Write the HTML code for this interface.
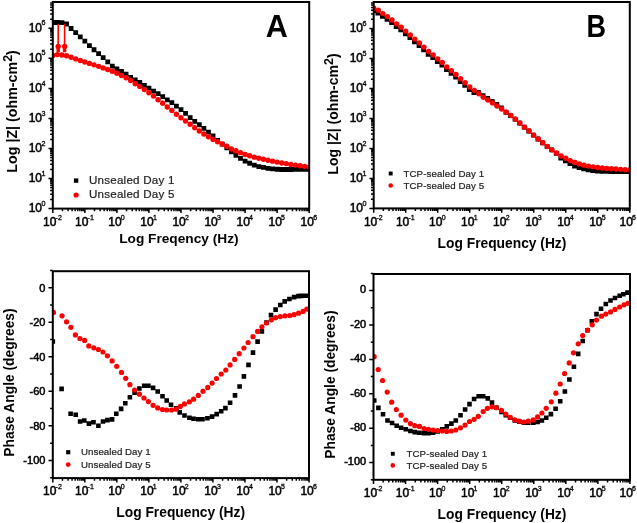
<!DOCTYPE html><html><head><meta charset="utf-8"><style>html,body{margin:0;padding:0;background:#fff;overflow:hidden}svg{display:block} text{font-family:"Liberation Sans", sans-serif;fill:#000} .tl{stroke:#000;stroke-width:0.5px} .ts{stroke:#000;stroke-width:0.3px}</style></head><body>
<svg width="637" height="523" viewBox="0 0 637 523" style="will-change:transform">
<rect width="637" height="523" fill="#fff"/>
<clipPath id="cA"><rect x="52.8" y="2" width="256.4" height="206.6"/></clipPath>
<clipPath id="cB"><rect x="373.7" y="2" width="256.1" height="206.4"/></clipPath>
<clipPath id="cC"><rect x="52.8" y="271.2" width="256.2" height="206.9"/></clipPath>
<clipPath id="cD"><rect x="373.5" y="274" width="256.5" height="205.8"/></clipPath>
<g clip-path="url(#cA)">
<path d="M50.4 20.1h4.8v4.8h-4.8z M54.98 20.1h4.8v4.8h-4.8z M59.56 20.2h4.8v4.8h-4.8z M64.14 21.58h4.8v4.8h-4.8z M68.71 26.11h4.8v4.8h-4.8z M73.29 30.32h4.8v4.8h-4.8z M77.87 34.41h4.8v4.8h-4.8z M82.45 38.72h4.8v4.8h-4.8z M87.03 43.13h4.8v4.8h-4.8z M91.61 47.34h4.8v4.8h-4.8z M96.19 51.32h4.8v4.8h-4.8z M100.76 55.32h4.8v4.8h-4.8z M105.34 59.55h4.8v4.8h-4.8z M109.92 63.78h4.8v4.8h-4.8z M114.5 66.59h4.8v4.8h-4.8z M119.08 69.1h4.8v4.8h-4.8z M123.66 71.64h4.8v4.8h-4.8z M128.24 74.95h4.8v4.8h-4.8z M132.81 77.5h4.8v4.8h-4.8z M137.39 80.1h4.8v4.8h-4.8z M141.97 82.97h4.8v4.8h-4.8z M146.55 85.8h4.8v4.8h-4.8z M151.13 88.77h4.8v4.8h-4.8z M155.71 91.14h4.8v4.8h-4.8z M160.29 94.13h4.8v4.8h-4.8z M164.86 97.38h4.8v4.8h-4.8z M169.44 100.27h4.8v4.8h-4.8z M174.02 103.79h4.8v4.8h-4.8z M178.6 107.25h4.8v4.8h-4.8z M183.18 110.97h4.8v4.8h-4.8z M187.76 115.17h4.8v4.8h-4.8z M192.34 118.93h4.8v4.8h-4.8z M196.91 122.36h4.8v4.8h-4.8z M201.49 126.06h4.8v4.8h-4.8z M206.07 129.75h4.8v4.8h-4.8z M210.65 133.45h4.8v4.8h-4.8z M215.23 137.97h4.8v4.8h-4.8z M219.81 141.67h4.8v4.8h-4.8z M224.39 145.38h4.8v4.8h-4.8z M228.96 149.38h4.8v4.8h-4.8z M233.54 152.91h4.8v4.8h-4.8z M238.12 155.97h4.8v4.8h-4.8z M242.7 158.64h4.8v4.8h-4.8z M247.28 160.85h4.8v4.8h-4.8z M251.86 162.68h4.8v4.8h-4.8z M256.44 164.13h4.8v4.8h-4.8z M261.01 165h4.8v4.8h-4.8z M265.59 165.96h4.8v4.8h-4.8z M270.17 166.47h4.8v4.8h-4.8z M274.75 166.86h4.8v4.8h-4.8z M279.33 167.08h4.8v4.8h-4.8z M283.91 167.1h4.8v4.8h-4.8z M288.49 167.1h4.8v4.8h-4.8z M293.06 167.05h4.8v4.8h-4.8z M297.64 166.98h4.8v4.8h-4.8z M302.22 166.92h4.8v4.8h-4.8z M306.8 166.9h4.8v4.8h-4.8z" fill="#000"/>
<path d="M58.2 23.8V50 M64.6 23.8V50" stroke="#f00" stroke-width="1.6"/>
<path d="M56.5 46.3h3.4v6h-3.4z M62.9 46.3h3.4v6h-3.4z" fill="#f00"/>
<circle cx="58.2" cy="46.4" r="2.7" fill="#f00"/>
<circle cx="64.6" cy="46.4" r="2.7" fill="#f00"/>
<circle cx="52.8" cy="55.5" r="2.7" fill="#f00"/>
<circle cx="57.38" cy="54.6" r="2.7" fill="#f00"/>
<circle cx="61.96" cy="55" r="2.7" fill="#f00"/>
<circle cx="66.54" cy="55.79" r="2.7" fill="#f00"/>
<circle cx="71.11" cy="57.24" r="2.7" fill="#f00"/>
<circle cx="75.69" cy="58.9" r="2.7" fill="#f00"/>
<circle cx="80.27" cy="60.56" r="2.7" fill="#f00"/>
<circle cx="84.85" cy="62.02" r="2.7" fill="#f00"/>
<circle cx="89.43" cy="63.42" r="2.7" fill="#f00"/>
<circle cx="94.01" cy="64.86" r="2.7" fill="#f00"/>
<circle cx="98.59" cy="66.37" r="2.7" fill="#f00"/>
<circle cx="103.16" cy="67.9" r="2.7" fill="#f00"/>
<circle cx="107.74" cy="69.56" r="2.7" fill="#f00"/>
<circle cx="112.32" cy="71.22" r="2.7" fill="#f00"/>
<circle cx="116.9" cy="73.31" r="2.7" fill="#f00"/>
<circle cx="121.48" cy="75.49" r="2.7" fill="#f00"/>
<circle cx="126.06" cy="77.79" r="2.7" fill="#f00"/>
<circle cx="130.64" cy="80.55" r="2.7" fill="#f00"/>
<circle cx="135.21" cy="83.7" r="2.7" fill="#f00"/>
<circle cx="139.79" cy="86.38" r="2.7" fill="#f00"/>
<circle cx="144.37" cy="89.59" r="2.7" fill="#f00"/>
<circle cx="148.95" cy="92.71" r="2.7" fill="#f00"/>
<circle cx="153.53" cy="96.1" r="2.7" fill="#f00"/>
<circle cx="158.11" cy="99.79" r="2.7" fill="#f00"/>
<circle cx="162.69" cy="103.31" r="2.7" fill="#f00"/>
<circle cx="167.26" cy="107" r="2.7" fill="#f00"/>
<circle cx="171.84" cy="110.52" r="2.7" fill="#f00"/>
<circle cx="176.42" cy="114.24" r="2.7" fill="#f00"/>
<circle cx="181" cy="117.74" r="2.7" fill="#f00"/>
<circle cx="185.58" cy="120.96" r="2.7" fill="#f00"/>
<circle cx="190.16" cy="124.24" r="2.7" fill="#f00"/>
<circle cx="194.74" cy="127.73" r="2.7" fill="#f00"/>
<circle cx="199.31" cy="130.98" r="2.7" fill="#f00"/>
<circle cx="203.89" cy="133.93" r="2.7" fill="#f00"/>
<circle cx="208.47" cy="136.74" r="2.7" fill="#f00"/>
<circle cx="213.05" cy="139.43" r="2.7" fill="#f00"/>
<circle cx="217.63" cy="141.76" r="2.7" fill="#f00"/>
<circle cx="222.21" cy="144" r="2.7" fill="#f00"/>
<circle cx="226.79" cy="146.25" r="2.7" fill="#f00"/>
<circle cx="231.36" cy="148.95" r="2.7" fill="#f00"/>
<circle cx="235.94" cy="150.8" r="2.7" fill="#f00"/>
<circle cx="240.52" cy="152.65" r="2.7" fill="#f00"/>
<circle cx="245.1" cy="154.44" r="2.7" fill="#f00"/>
<circle cx="249.68" cy="155.72" r="2.7" fill="#f00"/>
<circle cx="254.26" cy="157.16" r="2.7" fill="#f00"/>
<circle cx="258.84" cy="158.23" r="2.7" fill="#f00"/>
<circle cx="263.41" cy="159.3" r="2.7" fill="#f00"/>
<circle cx="267.99" cy="160.26" r="2.7" fill="#f00"/>
<circle cx="272.57" cy="161.14" r="2.7" fill="#f00"/>
<circle cx="277.15" cy="162.1" r="2.7" fill="#f00"/>
<circle cx="281.73" cy="162.99" r="2.7" fill="#f00"/>
<circle cx="286.31" cy="163.61" r="2.7" fill="#f00"/>
<circle cx="290.89" cy="164.44" r="2.7" fill="#f00"/>
<circle cx="295.46" cy="165.08" r="2.7" fill="#f00"/>
<circle cx="300.04" cy="165.74" r="2.7" fill="#f00"/>
<circle cx="304.62" cy="166.35" r="2.7" fill="#f00"/>
<circle cx="309.2" cy="167" r="2.7" fill="#f00"/>
</g>
<g clip-path="url(#cB)">
<path d="M370.9 8.22h4.8v4.8h-4.8z M375.47 10.59h4.8v4.8h-4.8z M380.05 13.9h4.8v4.8h-4.8z M384.62 16.89h4.8v4.8h-4.8z M389.19 20.29h4.8v4.8h-4.8z M393.76 24.15h4.8v4.8h-4.8z M398.34 27.53h4.8v4.8h-4.8z M402.91 31.41h4.8v4.8h-4.8z M407.48 35.19h4.8v4.8h-4.8z M412.06 39.41h4.8v4.8h-4.8z M416.63 43.19h4.8v4.8h-4.8z M421.2 47.41h4.8v4.8h-4.8z M425.77 51.85h4.8v4.8h-4.8z M430.35 55.19h4.8v4.8h-4.8z M434.92 59.22h4.8v4.8h-4.8z M439.49 62.79h4.8v4.8h-4.8z M444.07 67.19h4.8v4.8h-4.8z M448.64 70.98h4.8v4.8h-4.8z M453.21 74.8h4.8v4.8h-4.8z M457.78 79.08h4.8v4.8h-4.8z M462.36 82.94h4.8v4.8h-4.8z M466.93 87.18h4.8v4.8h-4.8z M471.5 90.18h4.8v4.8h-4.8z M476.08 89.89h4.8v4.8h-4.8z M480.65 93.3h4.8v4.8h-4.8z M485.22 96.11h4.8v4.8h-4.8z M489.79 99.01h4.8v4.8h-4.8z M494.37 102.1h4.8v4.8h-4.8z M498.94 105.48h4.8v4.8h-4.8z M503.51 109.87h4.8v4.8h-4.8z M508.09 113.16h4.8v4.8h-4.8z M512.66 116.82h4.8v4.8h-4.8z M517.23 120.65h4.8v4.8h-4.8z M521.8 124.77h4.8v4.8h-4.8z M526.38 128.61h4.8v4.8h-4.8z M530.95 132.71h4.8v4.8h-4.8z M535.52 136.58h4.8v4.8h-4.8z M540.1 140.4h4.8v4.8h-4.8z M544.67 144.17h4.8v4.8h-4.8z M549.24 147.44h4.8v4.8h-4.8z M553.81 150.94h4.8v4.8h-4.8z M558.39 155.72h4.8v4.8h-4.8z M562.96 158.57h4.8v4.8h-4.8z M567.53 161.32h4.8v4.8h-4.8z M572.11 163.6h4.8v4.8h-4.8z M576.68 165.19h4.8v4.8h-4.8z M581.25 166.55h4.8v4.8h-4.8z M585.82 167.43h4.8v4.8h-4.8z M590.4 168.15h4.8v4.8h-4.8z M594.97 168.59h4.8v4.8h-4.8z M599.54 168.93h4.8v4.8h-4.8z M604.12 169.03h4.8v4.8h-4.8z M608.69 169.1h4.8v4.8h-4.8z M613.26 169.1h4.8v4.8h-4.8z M617.83 169.1h4.8v4.8h-4.8z M622.41 169.1h4.8v4.8h-4.8z M626.98 169.1h4.8v4.8h-4.8z" fill="#000"/>
<circle cx="373.7" cy="7.92" r="2.7" fill="#f00"/>
<circle cx="378.27" cy="10.29" r="2.7" fill="#f00"/>
<circle cx="382.85" cy="13.6" r="2.7" fill="#f00"/>
<circle cx="387.42" cy="16.59" r="2.7" fill="#f00"/>
<circle cx="391.99" cy="19.99" r="2.7" fill="#f00"/>
<circle cx="396.56" cy="23.85" r="2.7" fill="#f00"/>
<circle cx="401.14" cy="27.23" r="2.7" fill="#f00"/>
<circle cx="405.71" cy="31.11" r="2.7" fill="#f00"/>
<circle cx="410.28" cy="34.89" r="2.7" fill="#f00"/>
<circle cx="414.86" cy="39.11" r="2.7" fill="#f00"/>
<circle cx="419.43" cy="42.89" r="2.7" fill="#f00"/>
<circle cx="424" cy="47.11" r="2.7" fill="#f00"/>
<circle cx="428.57" cy="51.55" r="2.7" fill="#f00"/>
<circle cx="433.15" cy="54.89" r="2.7" fill="#f00"/>
<circle cx="437.72" cy="58.92" r="2.7" fill="#f00"/>
<circle cx="442.29" cy="62.49" r="2.7" fill="#f00"/>
<circle cx="446.87" cy="66.89" r="2.7" fill="#f00"/>
<circle cx="451.44" cy="70.68" r="2.7" fill="#f00"/>
<circle cx="456.01" cy="74.5" r="2.7" fill="#f00"/>
<circle cx="460.58" cy="78.78" r="2.7" fill="#f00"/>
<circle cx="465.16" cy="82.64" r="2.7" fill="#f00"/>
<circle cx="469.73" cy="86.88" r="2.7" fill="#f00"/>
<circle cx="474.3" cy="90.37" r="2.7" fill="#f00"/>
<circle cx="478.88" cy="93.79" r="2.7" fill="#f00"/>
<circle cx="483.45" cy="97.2" r="2.7" fill="#f00"/>
<circle cx="488.02" cy="100.01" r="2.7" fill="#f00"/>
<circle cx="492.59" cy="102.91" r="2.7" fill="#f00"/>
<circle cx="497.17" cy="106" r="2.7" fill="#f00"/>
<circle cx="501.74" cy="109.06" r="2.7" fill="#f00"/>
<circle cx="506.31" cy="112.27" r="2.7" fill="#f00"/>
<circle cx="510.89" cy="115.56" r="2.7" fill="#f00"/>
<circle cx="515.46" cy="119.22" r="2.7" fill="#f00"/>
<circle cx="520.03" cy="123.05" r="2.7" fill="#f00"/>
<circle cx="524.6" cy="127.17" r="2.7" fill="#f00"/>
<circle cx="529.18" cy="131.01" r="2.7" fill="#f00"/>
<circle cx="533.75" cy="135.11" r="2.7" fill="#f00"/>
<circle cx="538.32" cy="138.98" r="2.7" fill="#f00"/>
<circle cx="542.9" cy="142.8" r="2.7" fill="#f00"/>
<circle cx="547.47" cy="146.57" r="2.7" fill="#f00"/>
<circle cx="552.04" cy="149.84" r="2.7" fill="#f00"/>
<circle cx="556.61" cy="152.97" r="2.7" fill="#f00"/>
<circle cx="561.19" cy="155.99" r="2.7" fill="#f00"/>
<circle cx="565.76" cy="158.31" r="2.7" fill="#f00"/>
<circle cx="570.33" cy="160.62" r="2.7" fill="#f00"/>
<circle cx="574.91" cy="162.42" r="2.7" fill="#f00"/>
<circle cx="579.48" cy="163.94" r="2.7" fill="#f00"/>
<circle cx="584.05" cy="165.14" r="2.7" fill="#f00"/>
<circle cx="588.62" cy="166.1" r="2.7" fill="#f00"/>
<circle cx="593.2" cy="166.84" r="2.7" fill="#f00"/>
<circle cx="597.77" cy="167.46" r="2.7" fill="#f00"/>
<circle cx="602.34" cy="167.97" r="2.7" fill="#f00"/>
<circle cx="606.92" cy="168.45" r="2.7" fill="#f00"/>
<circle cx="611.49" cy="168.7" r="2.7" fill="#f00"/>
<circle cx="616.06" cy="169.02" r="2.7" fill="#f00"/>
<circle cx="620.63" cy="169.34" r="2.7" fill="#f00"/>
<circle cx="625.21" cy="169.66" r="2.7" fill="#f00"/>
<circle cx="629.78" cy="169.98" r="2.7" fill="#f00"/>
</g>
<g clip-path="url(#cC)">
<path d="M50.5 339.2h4.6v4.6h-4.6z M59.3 386.6h4.6v4.6h-4.6z M68.3 411.5h4.6v4.6h-4.6z M73.4 412.5h4.6v4.6h-4.6z M77.8 419.2h4.6v4.6h-4.6z M82 418.2h4.6v4.6h-4.6z M86.6 421.3h4.6v4.6h-4.6z M91.2 419.9h4.6v4.6h-4.6z M96.1 423.4h4.6v4.6h-4.6z M100.7 419.2h4.6v4.6h-4.6z M105.1 417.8h4.6v4.6h-4.6z M109.8 417.1h4.6v4.6h-4.6z M114 411.5h4.6v4.6h-4.6z M118.8 406.6h4.6v4.6h-4.6z M123 400.9h4.6v4.6h-4.6z M127.6 395h4.6v4.6h-4.6z M132.3 390.4h4.6v4.6h-4.6z M137.1 386.2h4.6v4.6h-4.6z M141.9 383.5h4.6v4.6h-4.6z M146.1 383.5h4.6v4.6h-4.6z M150.8 385.6h4.6v4.6h-4.6z M155.4 389.2h4.6v4.6h-4.6z M160.2 394h4.6v4.6h-4.6z M164.4 398.2h4.6v4.6h-4.6z M168.7 402.4h4.6v4.6h-4.6z M173.9 406h4.6v4.6h-4.6z M177.4 410.1h4.6v4.6h-4.6z M182.2 413.2h4.6v4.6h-4.6z M187.1 415.4h4.6v4.6h-4.6z M191.3 416.4h4.6v4.6h-4.6z M196 416.9h4.6v4.6h-4.6z M200.2 416.9h4.6v4.6h-4.6z M205.1 416h4.6v4.6h-4.6z M209.8 414.3h4.6v4.6h-4.6z M214.4 411.8h4.6v4.6h-4.6z M218.9 409h4.6v4.6h-4.6z M223.1 405.8h4.6v4.6h-4.6z M227.8 400.5h4.6v4.6h-4.6z M232.7 393.1h4.6v4.6h-4.6z M237.3 384.2h4.6v4.6h-4.6z M241.6 374.1h4.6v4.6h-4.6z M246.2 362.6h4.6v4.6h-4.6z M250.7 350.3h4.6v4.6h-4.6z M255.3 339.3h4.6v4.6h-4.6z M259.6 329.1h4.6v4.6h-4.6z M264.2 320.2h4.6v4.6h-4.6z M268.7 312.8h4.6v4.6h-4.6z M273.3 307.3h4.6v4.6h-4.6z M278 302.7h4.6v4.6h-4.6z M282.4 299.1h4.6v4.6h-4.6z M287.1 296.7h4.6v4.6h-4.6z M291.8 294.8h4.6v4.6h-4.6z M296.2 293.8h4.6v4.6h-4.6z M298.7 293.6h4.6v4.6h-4.6z M300.9 293.5h4.6v4.6h-4.6z M303.2 293.5h4.6v4.6h-4.6z M305.1 293.5h4.6v4.6h-4.6z" fill="#000"/>
<circle cx="53.5" cy="312.4" r="2.6" fill="#f00"/>
<circle cx="62" cy="315.8" r="2.6" fill="#f00"/>
<circle cx="66.5" cy="321.8" r="2.6" fill="#f00"/>
<circle cx="70.9" cy="327.3" r="2.6" fill="#f00"/>
<circle cx="75.4" cy="334.9" r="2.6" fill="#f00"/>
<circle cx="79.9" cy="338.5" r="2.6" fill="#f00"/>
<circle cx="84.6" cy="340.4" r="2.6" fill="#f00"/>
<circle cx="88.8" cy="345.9" r="2.6" fill="#f00"/>
<circle cx="93.8" cy="347.8" r="2.6" fill="#f00"/>
<circle cx="98.4" cy="349.5" r="2.6" fill="#f00"/>
<circle cx="103" cy="352" r="2.6" fill="#f00"/>
<circle cx="107.4" cy="355.8" r="2.6" fill="#f00"/>
<circle cx="112.1" cy="360.9" r="2.6" fill="#f00"/>
<circle cx="116.7" cy="366.3" r="2.6" fill="#f00"/>
<circle cx="121.5" cy="372.4" r="2.6" fill="#f00"/>
<circle cx="125.7" cy="378.3" r="2.6" fill="#f00"/>
<circle cx="129.9" cy="384.7" r="2.6" fill="#f00"/>
<circle cx="134.6" cy="390" r="2.6" fill="#f00"/>
<circle cx="139.4" cy="394.2" r="2.6" fill="#f00"/>
<circle cx="144" cy="398" r="2.6" fill="#f00"/>
<circle cx="148.4" cy="401.6" r="2.6" fill="#f00"/>
<circle cx="153.1" cy="405.3" r="2.6" fill="#f00"/>
<circle cx="157.7" cy="407.9" r="2.6" fill="#f00"/>
<circle cx="162.5" cy="409.5" r="2.6" fill="#f00"/>
<circle cx="166.7" cy="410" r="2.6" fill="#f00"/>
<circle cx="171.6" cy="410" r="2.6" fill="#f00"/>
<circle cx="176.1" cy="409.2" r="2.6" fill="#f00"/>
<circle cx="180.3" cy="406.4" r="2.6" fill="#f00"/>
<circle cx="184.5" cy="403.9" r="2.6" fill="#f00"/>
<circle cx="189.4" cy="401.8" r="2.6" fill="#f00"/>
<circle cx="193.6" cy="399.2" r="2.6" fill="#f00"/>
<circle cx="198.3" cy="395.4" r="2.6" fill="#f00"/>
<circle cx="203" cy="391.2" r="2.6" fill="#f00"/>
<circle cx="207.8" cy="387.4" r="2.6" fill="#f00"/>
<circle cx="212.1" cy="383.1" r="2.6" fill="#f00"/>
<circle cx="216.5" cy="378.5" r="2.6" fill="#f00"/>
<circle cx="221.2" cy="374" r="2.6" fill="#f00"/>
<circle cx="225.8" cy="370" r="2.6" fill="#f00"/>
<circle cx="230.1" cy="364.9" r="2.6" fill="#f00"/>
<circle cx="234.7" cy="359.4" r="2.6" fill="#f00"/>
<circle cx="239.2" cy="353.7" r="2.6" fill="#f00"/>
<circle cx="243.9" cy="348" r="2.6" fill="#f00"/>
<circle cx="248.1" cy="342.5" r="2.6" fill="#f00"/>
<circle cx="253" cy="336.7" r="2.6" fill="#f00"/>
<circle cx="257.6" cy="331.4" r="2.6" fill="#f00"/>
<circle cx="261.9" cy="326.8" r="2.6" fill="#f00"/>
<circle cx="266.5" cy="323" r="2.6" fill="#f00"/>
<circle cx="271.4" cy="319.8" r="2.6" fill="#f00"/>
<circle cx="275.6" cy="317.7" r="2.6" fill="#f00"/>
<circle cx="280.3" cy="316.6" r="2.6" fill="#f00"/>
<circle cx="285" cy="315.8" r="2.6" fill="#f00"/>
<circle cx="289.7" cy="315.5" r="2.6" fill="#f00"/>
<circle cx="294.1" cy="314.7" r="2.6" fill="#f00"/>
<circle cx="298.6" cy="313.2" r="2.6" fill="#f00"/>
<circle cx="303.1" cy="311.4" r="2.6" fill="#f00"/>
<circle cx="306.8" cy="309.1" r="2.6" fill="#f00"/>
</g>
<g clip-path="url(#cD)">
<path d="M371.9 398.2h4.6v4.6h-4.6z M376.1 405.6h4.6v4.6h-4.6z M380.7 411.9h4.6v4.6h-4.6z M385.2 418.2h4.6v4.6h-4.6z M389.8 420.7h4.6v4.6h-4.6z M394.4 423.4h4.6v4.6h-4.6z M398.8 425.5h4.6v4.6h-4.6z M403.5 427h4.6v4.6h-4.6z M408.1 428.7h4.6v4.6h-4.6z M412.5 429.8h4.6v4.6h-4.6z M417.1 430.4h4.6v4.6h-4.6z M421.8 430.8h4.6v4.6h-4.6z M426.2 430.8h4.6v4.6h-4.6z M430.8 430.4h4.6v4.6h-4.6z M435.4 429.1h4.6v4.6h-4.6z M439.9 427h4.6v4.6h-4.6z M444.5 424.1h4.6v4.6h-4.6z M449.1 421.3h4.6v4.6h-4.6z M453.5 418.2h4.6v4.6h-4.6z M458.2 412.9h4.6v4.6h-4.6z M462.8 407.2h4.6v4.6h-4.6z M467.2 401.8h4.6v4.6h-4.6z M471.8 396.7h4.6v4.6h-4.6z M476.4 394h4.6v4.6h-4.6z M480.9 394h4.6v4.6h-4.6z M485.5 396.1h4.6v4.6h-4.6z M489.7 400.3h4.6v4.6h-4.6z M494.2 405.5h4.6v4.6h-4.6z M499.2 409.6h4.6v4.6h-4.6z M503.5 412.9h4.6v4.6h-4.6z M507.8 415.4h4.6v4.6h-4.6z M512.5 418.2h4.6v4.6h-4.6z M517 419.3h4.6v4.6h-4.6z M521.7 420.4h4.6v4.6h-4.6z M526 420.4h4.6v4.6h-4.6z M531 420.4h4.6v4.6h-4.6z M535.3 419.7h4.6v4.6h-4.6z M539.6 418.2h4.6v4.6h-4.6z M543.9 415.4h4.6v4.6h-4.6z M548.6 411.8h4.6v4.6h-4.6z M553.3 406.4h4.6v4.6h-4.6z M557.9 398.9h4.6v4.6h-4.6z M562.6 389.2h4.6v4.6h-4.6z M567.1 377.2h4.6v4.6h-4.6z M571.6 364.5h4.6v4.6h-4.6z M575.9 351.6h4.6v4.6h-4.6z M580.4 338.7h4.6v4.6h-4.6z M585.2 327.9h4.6v4.6h-4.6z M589.5 318.9h4.6v4.6h-4.6z M594.2 311.8h4.6v4.6h-4.6z M598.7 306.4h4.6v4.6h-4.6z M603.5 301.7h4.6v4.6h-4.6z M608.2 298.2h4.6v4.6h-4.6z M612.7 295.7h4.6v4.6h-4.6z M617.4 293.5h4.6v4.6h-4.6z M621 291.9h4.6v4.6h-4.6z M625.2 290.3h4.6v4.6h-4.6z" fill="#000"/>
<circle cx="374.2" cy="356.7" r="2.6" fill="#f00"/>
<circle cx="378.2" cy="369.5" r="2.6" fill="#f00"/>
<circle cx="382.6" cy="380.5" r="2.6" fill="#f00"/>
<circle cx="387.2" cy="392.1" r="2.6" fill="#f00"/>
<circle cx="391.7" cy="402.2" r="2.6" fill="#f00"/>
<circle cx="396.3" cy="409.5" r="2.6" fill="#f00"/>
<circle cx="401.1" cy="415.2" r="2.6" fill="#f00"/>
<circle cx="405.8" cy="420.1" r="2.6" fill="#f00"/>
<circle cx="410.4" cy="423.6" r="2.6" fill="#f00"/>
<circle cx="414.8" cy="425.7" r="2.6" fill="#f00"/>
<circle cx="419.4" cy="426.4" r="2.6" fill="#f00"/>
<circle cx="424.1" cy="428.5" r="2.6" fill="#f00"/>
<circle cx="428.5" cy="429.3" r="2.6" fill="#f00"/>
<circle cx="433.1" cy="430" r="2.6" fill="#f00"/>
<circle cx="437.7" cy="430.6" r="2.6" fill="#f00"/>
<circle cx="442.2" cy="431" r="2.6" fill="#f00"/>
<circle cx="446.8" cy="431.4" r="2.6" fill="#f00"/>
<circle cx="451.4" cy="431" r="2.6" fill="#f00"/>
<circle cx="455.8" cy="430" r="2.6" fill="#f00"/>
<circle cx="460.5" cy="427.8" r="2.6" fill="#f00"/>
<circle cx="465.1" cy="425.1" r="2.6" fill="#f00"/>
<circle cx="469.5" cy="421.5" r="2.6" fill="#f00"/>
<circle cx="474.1" cy="419.3" r="2.6" fill="#f00"/>
<circle cx="478.3" cy="416.3" r="2.6" fill="#f00"/>
<circle cx="483.2" cy="411.6" r="2.6" fill="#f00"/>
<circle cx="487.4" cy="408.3" r="2.6" fill="#f00"/>
<circle cx="492" cy="406.8" r="2.6" fill="#f00"/>
<circle cx="496.5" cy="407.7" r="2.6" fill="#f00"/>
<circle cx="501.5" cy="410.4" r="2.6" fill="#f00"/>
<circle cx="505.8" cy="414.1" r="2.6" fill="#f00"/>
<circle cx="510.1" cy="417.3" r="2.6" fill="#f00"/>
<circle cx="514.8" cy="419.9" r="2.6" fill="#f00"/>
<circle cx="519.3" cy="421.2" r="2.6" fill="#f00"/>
<circle cx="524" cy="422" r="2.6" fill="#f00"/>
<circle cx="528.3" cy="421.2" r="2.6" fill="#f00"/>
<circle cx="533.3" cy="419.9" r="2.6" fill="#f00"/>
<circle cx="537.6" cy="416.9" r="2.6" fill="#f00"/>
<circle cx="541.9" cy="413" r="2.6" fill="#f00"/>
<circle cx="546.2" cy="408.3" r="2.6" fill="#f00"/>
<circle cx="551.3" cy="401.8" r="2.6" fill="#f00"/>
<circle cx="555.9" cy="393.2" r="2.6" fill="#f00"/>
<circle cx="560.2" cy="384" r="2.6" fill="#f00"/>
<circle cx="564.6" cy="373.5" r="2.6" fill="#f00"/>
<circle cx="569.2" cy="362.9" r="2.6" fill="#f00"/>
<circle cx="573.5" cy="352.8" r="2.6" fill="#f00"/>
<circle cx="578.2" cy="343.8" r="2.6" fill="#f00"/>
<circle cx="582.7" cy="335.6" r="2.6" fill="#f00"/>
<circle cx="587.5" cy="330.2" r="2.6" fill="#f00"/>
<circle cx="592.2" cy="324.8" r="2.6" fill="#f00"/>
<circle cx="596.5" cy="320.1" r="2.6" fill="#f00"/>
<circle cx="601.5" cy="316.2" r="2.6" fill="#f00"/>
<circle cx="605.8" cy="314.1" r="2.6" fill="#f00"/>
<circle cx="610.5" cy="311.9" r="2.6" fill="#f00"/>
<circle cx="615" cy="309.4" r="2.6" fill="#f00"/>
<circle cx="619.7" cy="307" r="2.6" fill="#f00"/>
<circle cx="624" cy="304.8" r="2.6" fill="#f00"/>
<circle cx="627.9" cy="303.3" r="2.6" fill="#f00"/>
</g>
<rect x="52.8" y="2" width="256.4" height="206.6" fill="none" stroke="#000" stroke-width="2"/>
<path d="M52.8 208.6v4.3 M62.45 208.6v2.7 M68.09 208.6v2.7 M72.1 208.6v2.7 M75.2 208.6v2.7 M77.74 208.6v2.7 M79.89 208.6v2.7 M81.74 208.6v2.7 M83.38 208.6v2.7 M84.85 208.6v4.3 M94.5 208.6v2.7 M100.14 208.6v2.7 M104.15 208.6v2.7 M107.25 208.6v2.7 M109.79 208.6v2.7 M111.94 208.6v2.7 M113.79 208.6v2.7 M115.43 208.6v2.7 M116.9 208.6v4.3 M126.55 208.6v2.7 M132.19 208.6v2.7 M136.2 208.6v2.7 M139.3 208.6v2.7 M141.84 208.6v2.7 M143.99 208.6v2.7 M145.84 208.6v2.7 M147.48 208.6v2.7 M148.95 208.6v4.3 M158.6 208.6v2.7 M164.24 208.6v2.7 M168.25 208.6v2.7 M171.35 208.6v2.7 M173.89 208.6v2.7 M176.04 208.6v2.7 M177.89 208.6v2.7 M179.53 208.6v2.7 M181 208.6v4.3 M190.65 208.6v2.7 M196.29 208.6v2.7 M200.3 208.6v2.7 M203.4 208.6v2.7 M205.94 208.6v2.7 M208.09 208.6v2.7 M209.94 208.6v2.7 M211.58 208.6v2.7 M213.05 208.6v4.3 M222.7 208.6v2.7 M228.34 208.6v2.7 M232.35 208.6v2.7 M235.45 208.6v2.7 M237.99 208.6v2.7 M240.14 208.6v2.7 M241.99 208.6v2.7 M243.63 208.6v2.7 M245.1 208.6v4.3 M254.75 208.6v2.7 M260.39 208.6v2.7 M264.4 208.6v2.7 M267.5 208.6v2.7 M270.04 208.6v2.7 M272.19 208.6v2.7 M274.04 208.6v2.7 M275.68 208.6v2.7 M277.15 208.6v4.3 M286.8 208.6v2.7 M292.44 208.6v2.7 M296.45 208.6v2.7 M299.55 208.6v2.7 M302.09 208.6v2.7 M304.24 208.6v2.7 M306.09 208.6v2.7 M307.73 208.6v2.7 M309.2 208.6v4.3" stroke="#000" stroke-width="1.5" fill="none"/>
<rect x="373.7" y="2" width="256.1" height="206.4" fill="none" stroke="#000" stroke-width="2"/>
<path d="M373.7 208.4v4.3 M383.34 208.4v2.7 M388.97 208.4v2.7 M392.97 208.4v2.7 M396.07 208.4v2.7 M398.61 208.4v2.7 M400.75 208.4v2.7 M402.61 208.4v2.7 M404.25 208.4v2.7 M405.71 208.4v4.3 M415.35 208.4v2.7 M420.98 208.4v2.7 M424.98 208.4v2.7 M428.08 208.4v2.7 M430.62 208.4v2.7 M432.76 208.4v2.7 M434.62 208.4v2.7 M436.26 208.4v2.7 M437.72 208.4v4.3 M447.36 208.4v2.7 M452.99 208.4v2.7 M456.99 208.4v2.7 M460.09 208.4v2.7 M462.63 208.4v2.7 M464.77 208.4v2.7 M466.63 208.4v2.7 M468.27 208.4v2.7 M469.73 208.4v4.3 M479.37 208.4v2.7 M485 208.4v2.7 M489 208.4v2.7 M492.1 208.4v2.7 M494.64 208.4v2.7 M496.78 208.4v2.7 M498.64 208.4v2.7 M500.28 208.4v2.7 M501.74 208.4v4.3 M511.38 208.4v2.7 M517.01 208.4v2.7 M521.01 208.4v2.7 M524.11 208.4v2.7 M526.65 208.4v2.7 M528.79 208.4v2.7 M530.65 208.4v2.7 M532.29 208.4v2.7 M533.75 208.4v4.3 M543.39 208.4v2.7 M549.02 208.4v2.7 M553.02 208.4v2.7 M556.12 208.4v2.7 M558.66 208.4v2.7 M560.8 208.4v2.7 M562.66 208.4v2.7 M564.3 208.4v2.7 M565.76 208.4v4.3 M575.4 208.4v2.7 M581.03 208.4v2.7 M585.03 208.4v2.7 M588.13 208.4v2.7 M590.67 208.4v2.7 M592.81 208.4v2.7 M594.67 208.4v2.7 M596.31 208.4v2.7 M597.77 208.4v4.3 M607.41 208.4v2.7 M613.04 208.4v2.7 M617.04 208.4v2.7 M620.14 208.4v2.7 M622.68 208.4v2.7 M624.82 208.4v2.7 M626.68 208.4v2.7 M628.32 208.4v2.7 M629.78 208.4v4.3" stroke="#000" stroke-width="1.5" fill="none"/>
<rect x="52.8" y="271.2" width="256.2" height="206.9" fill="none" stroke="#000" stroke-width="2"/>
<path d="M52.8 478.1v4.3 M62.44 478.1v2.7 M68.08 478.1v2.7 M72.08 478.1v2.7 M75.19 478.1v2.7 M77.72 478.1v2.7 M79.87 478.1v2.7 M81.73 478.1v2.7 M83.36 478.1v2.7 M84.83 478.1v4.3 M94.47 478.1v2.7 M100.11 478.1v2.7 M104.11 478.1v2.7 M107.22 478.1v2.7 M109.75 478.1v2.7 M111.9 478.1v2.7 M113.76 478.1v2.7 M115.39 478.1v2.7 M116.86 478.1v4.3 M126.5 478.1v2.7 M132.14 478.1v2.7 M136.14 478.1v2.7 M139.25 478.1v2.7 M141.78 478.1v2.7 M143.93 478.1v2.7 M145.79 478.1v2.7 M147.42 478.1v2.7 M148.89 478.1v4.3 M158.53 478.1v2.7 M164.17 478.1v2.7 M168.17 478.1v2.7 M171.28 478.1v2.7 M173.81 478.1v2.7 M175.96 478.1v2.7 M177.82 478.1v2.7 M179.45 478.1v2.7 M180.92 478.1v4.3 M190.56 478.1v2.7 M196.2 478.1v2.7 M200.2 478.1v2.7 M203.31 478.1v2.7 M205.84 478.1v2.7 M207.99 478.1v2.7 M209.85 478.1v2.7 M211.48 478.1v2.7 M212.95 478.1v4.3 M222.59 478.1v2.7 M228.23 478.1v2.7 M232.23 478.1v2.7 M235.34 478.1v2.7 M237.87 478.1v2.7 M240.02 478.1v2.7 M241.88 478.1v2.7 M243.51 478.1v2.7 M244.98 478.1v4.3 M254.62 478.1v2.7 M260.26 478.1v2.7 M264.26 478.1v2.7 M267.37 478.1v2.7 M269.9 478.1v2.7 M272.05 478.1v2.7 M273.91 478.1v2.7 M275.54 478.1v2.7 M277.01 478.1v4.3 M286.65 478.1v2.7 M292.29 478.1v2.7 M296.29 478.1v2.7 M299.4 478.1v2.7 M301.93 478.1v2.7 M304.08 478.1v2.7 M305.94 478.1v2.7 M307.57 478.1v2.7 M309.04 478.1v4.3" stroke="#000" stroke-width="1.5" fill="none"/>
<rect x="373.5" y="274" width="256.5" height="205.8" fill="none" stroke="#000" stroke-width="2"/>
<path d="M373.5 479.8v4.3 M383.15 479.8v2.7 M388.8 479.8v2.7 M392.8 479.8v2.7 M395.91 479.8v2.7 M398.45 479.8v2.7 M400.59 479.8v2.7 M402.45 479.8v2.7 M404.09 479.8v2.7 M405.56 479.8v4.3 M415.21 479.8v2.7 M420.86 479.8v2.7 M424.86 479.8v2.7 M427.97 479.8v2.7 M430.51 479.8v2.7 M432.65 479.8v2.7 M434.51 479.8v2.7 M436.15 479.8v2.7 M437.62 479.8v4.3 M447.27 479.8v2.7 M452.92 479.8v2.7 M456.92 479.8v2.7 M460.03 479.8v2.7 M462.57 479.8v2.7 M464.71 479.8v2.7 M466.57 479.8v2.7 M468.21 479.8v2.7 M469.68 479.8v4.3 M479.33 479.8v2.7 M484.98 479.8v2.7 M488.98 479.8v2.7 M492.09 479.8v2.7 M494.63 479.8v2.7 M496.77 479.8v2.7 M498.63 479.8v2.7 M500.27 479.8v2.7 M501.74 479.8v4.3 M511.39 479.8v2.7 M517.04 479.8v2.7 M521.04 479.8v2.7 M524.15 479.8v2.7 M526.69 479.8v2.7 M528.83 479.8v2.7 M530.69 479.8v2.7 M532.33 479.8v2.7 M533.8 479.8v4.3 M543.45 479.8v2.7 M549.1 479.8v2.7 M553.1 479.8v2.7 M556.21 479.8v2.7 M558.75 479.8v2.7 M560.89 479.8v2.7 M562.75 479.8v2.7 M564.39 479.8v2.7 M565.86 479.8v4.3 M575.51 479.8v2.7 M581.16 479.8v2.7 M585.16 479.8v2.7 M588.27 479.8v2.7 M590.81 479.8v2.7 M592.95 479.8v2.7 M594.81 479.8v2.7 M596.45 479.8v2.7 M597.92 479.8v4.3 M607.57 479.8v2.7 M613.22 479.8v2.7 M617.22 479.8v2.7 M620.33 479.8v2.7 M622.87 479.8v2.7 M625.01 479.8v2.7 M626.87 479.8v2.7 M628.51 479.8v2.7 M629.98 479.8v4.3" stroke="#000" stroke-width="1.5" fill="none"/>
<text class="ts" x="41.4" y="205.7" font-size="7.2">0</text>
<text class="tl" x="42" y="212" font-size="12" text-anchor="end">10</text>
<text class="ts" x="41.4" y="175.65" font-size="7.2">1</text>
<text class="tl" x="42" y="181.95" font-size="12" text-anchor="end">10</text>
<text class="ts" x="41.4" y="145.6" font-size="7.2">2</text>
<text class="tl" x="42" y="151.9" font-size="12" text-anchor="end">10</text>
<text class="ts" x="41.4" y="115.55" font-size="7.2">3</text>
<text class="tl" x="42" y="121.85" font-size="12" text-anchor="end">10</text>
<text class="ts" x="41.4" y="85.5" font-size="7.2">4</text>
<text class="tl" x="42" y="91.8" font-size="12" text-anchor="end">10</text>
<text class="ts" x="41.4" y="55.45" font-size="7.2">5</text>
<text class="tl" x="42" y="61.75" font-size="12" text-anchor="end">10</text>
<text class="ts" x="41.4" y="25.4" font-size="7.2">6</text>
<text class="tl" x="42" y="31.7" font-size="12" text-anchor="end">10</text>
<path d="M52.8 208.6h-4.3 M52.8 199.55h-2.7 M52.8 194.26h-2.7 M52.8 190.51h-2.7 M52.8 187.6h-2.7 M52.8 185.22h-2.7 M52.8 183.2h-2.7 M52.8 181.46h-2.7 M52.8 179.93h-2.7 M52.8 178.55h-4.3 M52.8 169.5h-2.7 M52.8 164.21h-2.7 M52.8 160.46h-2.7 M52.8 157.55h-2.7 M52.8 155.17h-2.7 M52.8 153.15h-2.7 M52.8 151.41h-2.7 M52.8 149.88h-2.7 M52.8 148.5h-4.3 M52.8 139.45h-2.7 M52.8 134.16h-2.7 M52.8 130.41h-2.7 M52.8 127.5h-2.7 M52.8 125.12h-2.7 M52.8 123.1h-2.7 M52.8 121.36h-2.7 M52.8 119.83h-2.7 M52.8 118.45h-4.3 M52.8 109.4h-2.7 M52.8 104.11h-2.7 M52.8 100.36h-2.7 M52.8 97.45h-2.7 M52.8 95.07h-2.7 M52.8 93.05h-2.7 M52.8 91.31h-2.7 M52.8 89.78h-2.7 M52.8 88.4h-4.3 M52.8 79.35h-2.7 M52.8 74.06h-2.7 M52.8 70.31h-2.7 M52.8 67.4h-2.7 M52.8 65.02h-2.7 M52.8 63h-2.7 M52.8 61.26h-2.7 M52.8 59.73h-2.7 M52.8 58.35h-4.3 M52.8 49.3h-2.7 M52.8 44.01h-2.7 M52.8 40.26h-2.7 M52.8 37.35h-2.7 M52.8 34.97h-2.7 M52.8 32.95h-2.7 M52.8 31.21h-2.7 M52.8 29.68h-2.7 M52.8 28.3h-4.3 M52.8 19.25h-2.7 M52.8 13.96h-2.7 M52.8 10.21h-2.7 M52.8 7.3h-2.7 M52.8 4.92h-2.7 M52.8 2.9h-2.7" stroke="#000" stroke-width="1.5" fill="none"/>
<text class="ts" x="362.4" y="205.5" font-size="7.2">0</text>
<text class="tl" x="363" y="211.8" font-size="12" text-anchor="end">10</text>
<text class="ts" x="362.4" y="175.5" font-size="7.2">1</text>
<text class="tl" x="363" y="181.8" font-size="12" text-anchor="end">10</text>
<text class="ts" x="362.4" y="145.5" font-size="7.2">2</text>
<text class="tl" x="363" y="151.8" font-size="12" text-anchor="end">10</text>
<text class="ts" x="362.4" y="115.5" font-size="7.2">3</text>
<text class="tl" x="363" y="121.8" font-size="12" text-anchor="end">10</text>
<text class="ts" x="362.4" y="85.5" font-size="7.2">4</text>
<text class="tl" x="363" y="91.8" font-size="12" text-anchor="end">10</text>
<text class="ts" x="362.4" y="55.5" font-size="7.2">5</text>
<text class="tl" x="363" y="61.8" font-size="12" text-anchor="end">10</text>
<text class="ts" x="362.4" y="25.5" font-size="7.2">6</text>
<text class="tl" x="363" y="31.8" font-size="12" text-anchor="end">10</text>
<path d="M373.7 208.4h-4.3 M373.7 199.37h-2.7 M373.7 194.09h-2.7 M373.7 190.34h-2.7 M373.7 187.43h-2.7 M373.7 185.06h-2.7 M373.7 183.05h-2.7 M373.7 181.31h-2.7 M373.7 179.77h-2.7 M373.7 178.4h-4.3 M373.7 169.37h-2.7 M373.7 164.09h-2.7 M373.7 160.34h-2.7 M373.7 157.43h-2.7 M373.7 155.06h-2.7 M373.7 153.05h-2.7 M373.7 151.31h-2.7 M373.7 149.77h-2.7 M373.7 148.4h-4.3 M373.7 139.37h-2.7 M373.7 134.09h-2.7 M373.7 130.34h-2.7 M373.7 127.43h-2.7 M373.7 125.06h-2.7 M373.7 123.05h-2.7 M373.7 121.31h-2.7 M373.7 119.77h-2.7 M373.7 118.4h-4.3 M373.7 109.37h-2.7 M373.7 104.09h-2.7 M373.7 100.34h-2.7 M373.7 97.43h-2.7 M373.7 95.06h-2.7 M373.7 93.05h-2.7 M373.7 91.31h-2.7 M373.7 89.77h-2.7 M373.7 88.4h-4.3 M373.7 79.37h-2.7 M373.7 74.09h-2.7 M373.7 70.34h-2.7 M373.7 67.43h-2.7 M373.7 65.06h-2.7 M373.7 63.05h-2.7 M373.7 61.31h-2.7 M373.7 59.77h-2.7 M373.7 58.4h-4.3 M373.7 49.37h-2.7 M373.7 44.09h-2.7 M373.7 40.34h-2.7 M373.7 37.43h-2.7 M373.7 35.06h-2.7 M373.7 33.05h-2.7 M373.7 31.31h-2.7 M373.7 29.77h-2.7 M373.7 28.4h-4.3 M373.7 19.37h-2.7 M373.7 14.09h-2.7 M373.7 10.34h-2.7 M373.7 7.43h-2.7 M373.7 5.06h-2.7 M373.7 3.05h-2.7" stroke="#000" stroke-width="1.5" fill="none"/>
<text class="tl" x="43.02" y="225.6" font-size="12">10</text>
<text class="ts" x="55.56" y="219.8" font-size="7">-2</text>
<text class="tl" x="75.07" y="225.6" font-size="12">10</text>
<text class="ts" x="87.61" y="219.8" font-size="7">-1</text>
<text class="tl" x="108.28" y="225.6" font-size="12">10</text>
<text class="ts" x="120.83" y="219.8" font-size="7">0</text>
<text class="tl" x="140.33" y="225.6" font-size="12">10</text>
<text class="ts" x="152.88" y="219.8" font-size="7">1</text>
<text class="tl" x="172.38" y="225.6" font-size="12">10</text>
<text class="ts" x="184.93" y="219.8" font-size="7">2</text>
<text class="tl" x="204.43" y="225.6" font-size="12">10</text>
<text class="ts" x="216.98" y="219.8" font-size="7">3</text>
<text class="tl" x="236.48" y="225.6" font-size="12">10</text>
<text class="ts" x="249.03" y="219.8" font-size="7">4</text>
<text class="tl" x="268.53" y="225.6" font-size="12">10</text>
<text class="ts" x="281.08" y="219.8" font-size="7">5</text>
<text class="tl" x="300.58" y="225.6" font-size="12">10</text>
<text class="ts" x="313.13" y="219.8" font-size="7">6</text>
<text class="tl" x="363.92" y="225.5" font-size="12">10</text>
<text class="ts" x="376.46" y="219.7" font-size="7">-2</text>
<text class="tl" x="395.93" y="225.5" font-size="12">10</text>
<text class="ts" x="408.47" y="219.7" font-size="7">-1</text>
<text class="tl" x="429.1" y="225.5" font-size="12">10</text>
<text class="ts" x="441.65" y="219.7" font-size="7">0</text>
<text class="tl" x="461.11" y="225.5" font-size="12">10</text>
<text class="ts" x="473.66" y="219.7" font-size="7">1</text>
<text class="tl" x="493.12" y="225.5" font-size="12">10</text>
<text class="ts" x="505.67" y="219.7" font-size="7">2</text>
<text class="tl" x="525.13" y="225.5" font-size="12">10</text>
<text class="ts" x="537.68" y="219.7" font-size="7">3</text>
<text class="tl" x="557.14" y="225.5" font-size="12">10</text>
<text class="ts" x="569.69" y="219.7" font-size="7">4</text>
<text class="tl" x="589.15" y="225.5" font-size="12">10</text>
<text class="ts" x="601.7" y="219.7" font-size="7">5</text>
<text class="tl" x="619.56" y="225.5" font-size="12">10</text>
<text class="ts" x="632.11" y="219.7" font-size="7">6</text>
<text class="tl" x="45.4" y="291.7" font-size="11" text-anchor="end">0</text>
<text class="tl" x="45.4" y="326.24" font-size="11" text-anchor="end">-20</text>
<text class="tl" x="45.4" y="360.78" font-size="11" text-anchor="end">-40</text>
<text class="tl" x="45.4" y="395.32" font-size="11" text-anchor="end">-60</text>
<text class="tl" x="45.4" y="429.86" font-size="11" text-anchor="end">-80</text>
<text class="tl" x="45.4" y="464.4" font-size="11" text-anchor="end">-100</text>
<path d="M52.8 270.43h-2.7 M52.8 287.7h-4.3 M52.8 304.97h-2.7 M52.8 322.24h-4.3 M52.8 339.51h-2.7 M52.8 356.78h-4.3 M52.8 374.05h-2.7 M52.8 391.32h-4.3 M52.8 408.59h-2.7 M52.8 425.86h-4.3 M52.8 443.13h-2.7 M52.8 460.4h-4.3 M52.8 477.67h-2.7" stroke="#000" stroke-width="1.5" fill="none"/>
<text class="tl" x="366.2" y="293.3" font-size="11" text-anchor="end">0</text>
<text class="tl" x="366.2" y="327.7" font-size="11" text-anchor="end">-20</text>
<text class="tl" x="366.2" y="362.1" font-size="11" text-anchor="end">-40</text>
<text class="tl" x="366.2" y="396.5" font-size="11" text-anchor="end">-60</text>
<text class="tl" x="366.2" y="430.9" font-size="11" text-anchor="end">-80</text>
<text class="tl" x="366.2" y="465.3" font-size="11" text-anchor="end">-100</text>
<path d="M373.5 273.4h-2.7 M373.5 290.6h-4.3 M373.5 307.8h-2.7 M373.5 325h-4.3 M373.5 342.2h-2.7 M373.5 359.4h-4.3 M373.5 376.6h-2.7 M373.5 393.8h-4.3 M373.5 411h-2.7 M373.5 428.2h-4.3 M373.5 445.4h-2.7 M373.5 462.6h-4.3 M373.5 479.8h-2.7" stroke="#000" stroke-width="1.5" fill="none"/>
<text class="tl" x="43.02" y="495.3" font-size="12">10</text>
<text class="ts" x="55.56" y="489.4" font-size="7">-2</text>
<text class="tl" x="75.05" y="495.3" font-size="12">10</text>
<text class="ts" x="87.59" y="489.4" font-size="7">-1</text>
<text class="tl" x="108.24" y="495.3" font-size="12">10</text>
<text class="ts" x="120.79" y="489.4" font-size="7">0</text>
<text class="tl" x="140.27" y="495.3" font-size="12">10</text>
<text class="ts" x="152.82" y="489.4" font-size="7">1</text>
<text class="tl" x="172.3" y="495.3" font-size="12">10</text>
<text class="ts" x="184.85" y="489.4" font-size="7">2</text>
<text class="tl" x="204.33" y="495.3" font-size="12">10</text>
<text class="ts" x="216.88" y="489.4" font-size="7">3</text>
<text class="tl" x="236.36" y="495.3" font-size="12">10</text>
<text class="ts" x="248.91" y="489.4" font-size="7">4</text>
<text class="tl" x="268.39" y="495.3" font-size="12">10</text>
<text class="ts" x="280.94" y="489.4" font-size="7">5</text>
<text class="tl" x="300.42" y="495.3" font-size="12">10</text>
<text class="ts" x="312.97" y="489.4" font-size="7">6</text>
<text class="tl" x="363.72" y="497.1" font-size="12">10</text>
<text class="ts" x="376.26" y="491.2" font-size="7">-2</text>
<text class="tl" x="395.78" y="497.1" font-size="12">10</text>
<text class="ts" x="408.32" y="491.2" font-size="7">-1</text>
<text class="tl" x="429" y="497.1" font-size="12">10</text>
<text class="ts" x="441.55" y="491.2" font-size="7">0</text>
<text class="tl" x="461.06" y="497.1" font-size="12">10</text>
<text class="ts" x="473.61" y="491.2" font-size="7">1</text>
<text class="tl" x="493.12" y="497.1" font-size="12">10</text>
<text class="ts" x="505.67" y="491.2" font-size="7">2</text>
<text class="tl" x="525.18" y="497.1" font-size="12">10</text>
<text class="ts" x="537.73" y="491.2" font-size="7">3</text>
<text class="tl" x="557.24" y="497.1" font-size="12">10</text>
<text class="ts" x="569.79" y="491.2" font-size="7">4</text>
<text class="tl" x="589.3" y="497.1" font-size="12">10</text>
<text class="ts" x="601.85" y="491.2" font-size="7">5</text>
<text class="tl" x="619.56" y="497.1" font-size="12">10</text>
<text class="ts" x="632.11" y="491.2" font-size="7">6</text>
<text x="119.2" y="243.2" font-size="13.7" font-weight="bold">Log Freqency (Hz)</text>
<text x="437.6" y="247.9" font-size="13.8" font-weight="bold">Log Frequency (Hz)</text>
<text x="116.3" y="517.4" font-size="13.8" font-weight="bold">Log Frequency (Hz)</text>
<text x="437.6" y="519.2" font-size="13.8" font-weight="bold">Log Frequency (Hz)</text>
<text transform="translate(16.8,111.4) rotate(-90)" x="0" y="0" font-size="14.25" font-weight="bold" text-anchor="middle">Log |Z| (ohm-cm<tspan font-size="12.4" dy="-5.2">2</tspan><tspan dy="5.2">)</tspan></text>
<text transform="translate(337.7,114) rotate(-90)" x="0" y="0" font-size="14.1" font-weight="bold" text-anchor="middle">Log |Z| (ohm-cm<tspan font-size="12.4" dy="-5.2">2</tspan><tspan dy="5.2">)</tspan></text>
<text transform="translate(13.8,382.5) rotate(-90)" x="0" y="0" font-size="13.8" font-weight="bold" text-anchor="middle">Phase Angle (degrees)</text>
<text transform="translate(334.8,384.6) rotate(-90)" x="0" y="0" font-size="13.8" font-weight="bold" text-anchor="middle">Phase Angle (degrees)</text>
<text transform="translate(265.7,37.0) scale(0.95,1)" x="0" y="0" font-size="32.2" font-weight="bold">A</text>
<text transform="translate(586.6,37.0) scale(0.84,1)" x="0" y="0" font-size="32.2" font-weight="bold">B</text>
<path d="M73.9 178.4h4.4v4.4h-4.4z" fill="#000"/>
<circle cx="76.1" cy="195" r="2.6" fill="#f00"/>
<text x="89" y="183.6" font-size="11.6" letter-spacing="0.22" style="fill:#222;stroke:#222;stroke-width:0.2px">Unsealed Day 1</text>
<text x="89" y="198" font-size="11.6" letter-spacing="0.22" style="fill:#222;stroke:#222;stroke-width:0.2px">Unsealed Day 5</text>
<path d="M388.75 171.55h3.9v3.9h-3.9z" fill="#000"/>
<circle cx="390.7" cy="185.5" r="2.3" fill="#f00"/>
<text x="403.5" y="177.3" font-size="9.7" letter-spacing="0.1" style="fill:#222;stroke:#222;stroke-width:0.2px">TCP-sealed Day 1</text>
<text x="403.5" y="189.2" font-size="9.7" letter-spacing="0.1" style="fill:#222;stroke:#222;stroke-width:0.2px">TCP-sealed Day 5</text>
<path d="M66.1 450.1h4.2v4.2h-4.2z" fill="#000"/>
<circle cx="68.2" cy="464.6" r="2.4" fill="#f00"/>
<text x="81" y="454.9" font-size="9.7" letter-spacing="0.05" style="fill:#222;stroke:#222;stroke-width:0.2px">Unsealed Day 1</text>
<text x="81" y="467.5" font-size="9.7" letter-spacing="0.05" style="fill:#222;stroke:#222;stroke-width:0.2px">Unsealed Day 5</text>
<path d="M390.85 451.85h3.9v3.9h-3.9z" fill="#000"/>
<circle cx="392.8" cy="465.4" r="2.3" fill="#f00"/>
<text x="406.5" y="456.8" font-size="9.7" letter-spacing="0.1" style="fill:#222;stroke:#222;stroke-width:0.2px">TCP-sealed Day 1</text>
<text x="406.5" y="468.8" font-size="9.7" letter-spacing="0.1" style="fill:#222;stroke:#222;stroke-width:0.2px">TCP-sealed Day 5</text>
</svg></body></html>
